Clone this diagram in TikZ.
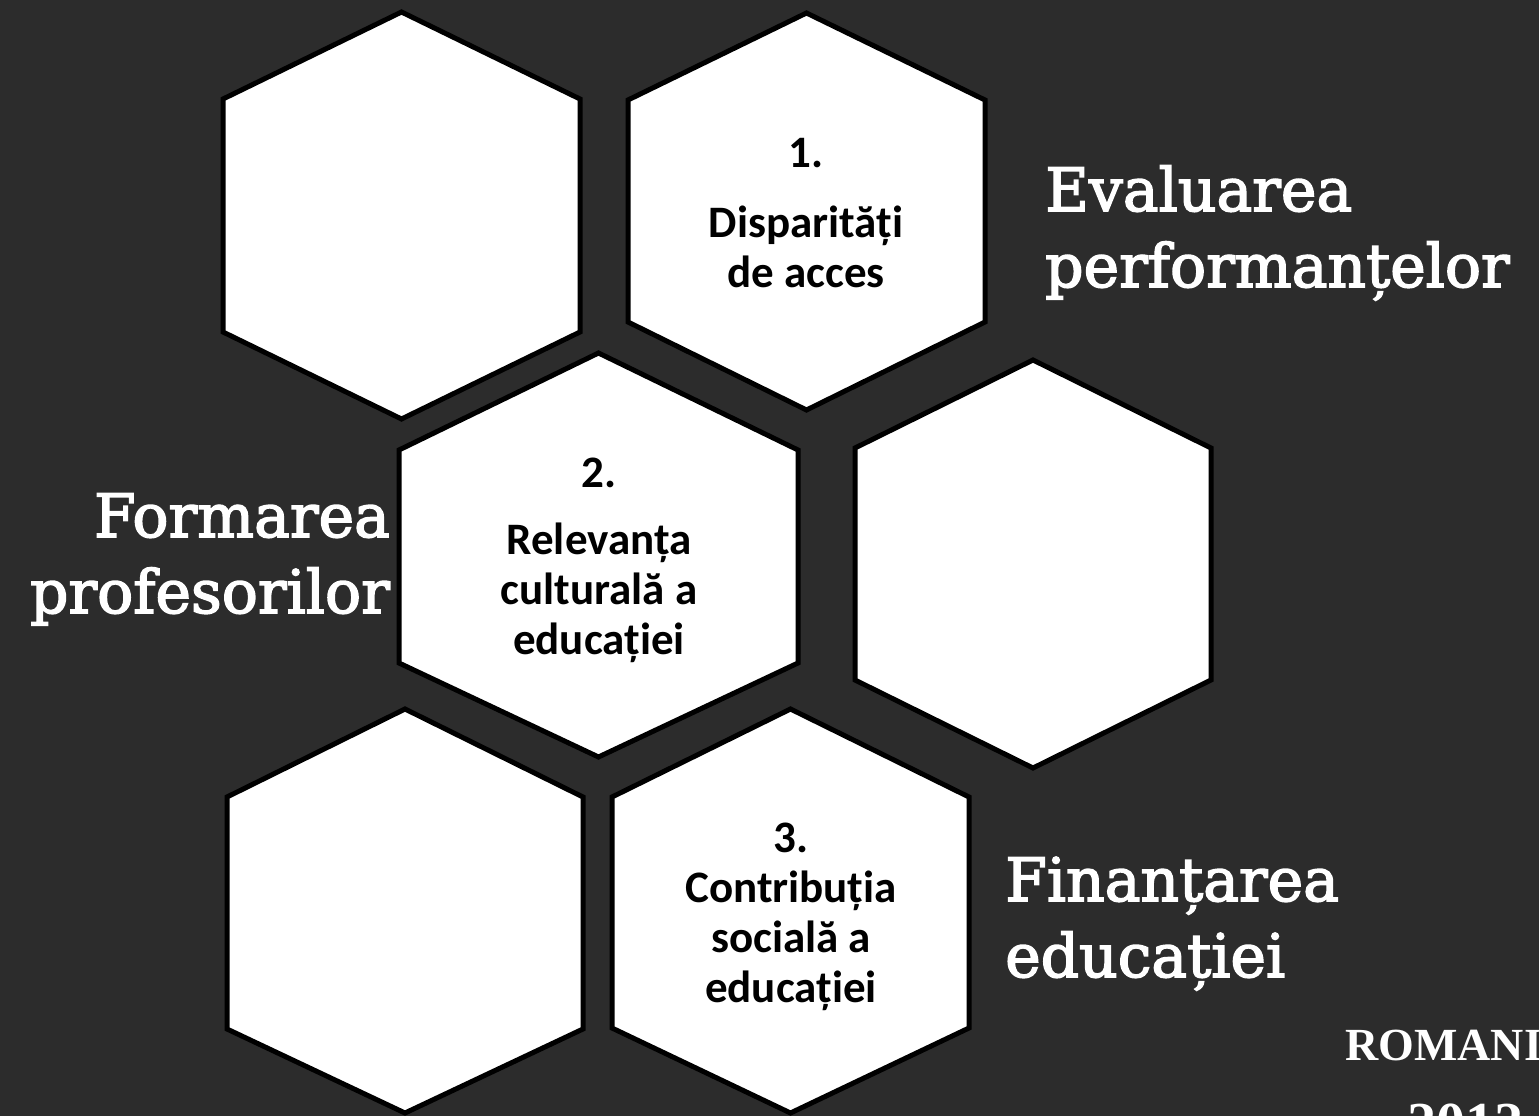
\documentclass[tikz,border=0pt]{standalone}
\usepackage{fontspec}
\usepackage{tikz}
\newfontfamily\chalkfont{DejaVu Serif}[BoldFont={DejaVu Serif}, BoldFeatures={FakeBold=2.5}]
\newfontfamily\cellfont{Carlito}
\newfontfamily\stampfont{Liberation Serif}
\definecolor{board}{RGB}{44,44,44}

\begin{document}
\begin{tikzpicture}[x=1pt,y=-1pt,
  hexa/.style={fill=white, draw=black, line width=5pt, line join=miter},
  celltext/.style={align=center, inner sep=0pt, text=black, font=\cellfont\bfseries\fontsize{45}{50}\selectfont},
  chalk/.style={inner sep=0pt, text=white, font=\chalkfont\bfseries\fontsize{60}{76}\selectfont},
  stamp/.style={anchor=base, inner sep=0pt, text=white}]
\useasboundingbox (0,0) rectangle (1539,1116);
\fill[board] (0,0) rectangle (1539,1116);

\coordinate (ha) at (401.5,215.5);
\coordinate (hb) at (806.5,211.5);
\coordinate (hc) at (598.5,555);
\coordinate (hd) at (1033,564);
\coordinate (he) at (405,911);
\coordinate (hf) at (790.5,911);

 \filldraw[hexa] (ha) ++(0,-203.5) -- ++(178.5,87) -- ++(0,233) -- ++(-178.5,87) -- ++(-178.5,-87) -- ++(0,-233) -- cycle;
 \filldraw[hexa] (hb) ++(0,-198.5) -- ++(178.5,87) -- ++(0,222) -- ++(-178.5,88) -- ++(-178.5,-88) -- ++(0,-222) -- cycle;
 \filldraw[hexa] (hc) ++(0,-202) -- ++(199.5,97) -- ++(0,213) -- ++(-199.5,94) -- ++(-199.5,-94) -- ++(0,-213) -- cycle;
 \filldraw[hexa] (hd) ++(0,-204) -- ++(178,88) -- ++(0,232) -- ++(-178,88) -- ++(-178,-88) -- ++(0,-232) -- cycle;
 \filldraw[hexa] (he) ++(0,-202) -- ++(178,88) -- ++(0,232) -- ++(-178,84) -- ++(-178,-84) -- ++(0,-232) -- cycle;
 \filldraw[hexa] (hf) ++(0,-202) -- ++(178.5,88) -- ++(0,231) -- ++(-178.5,85) -- ++(-178.5,-85) -- ++(0,-231) -- cycle;

 \node[celltext] (acces) at (806,213) {1.\\[20pt]Disparități\\de acces};
 \node[celltext] (cultura) at (599,560) {2.\\[17pt]Relevanța\\culturală a\\educației};
 \node[celltext] (social) at (791,917) {3.\\Contribuția\\socială a\\educației};

 \node[chalk, anchor=base west, align=left] (evaluare) at (1045,287) {Evaluarea\\performanțelor};
 \node[chalk, anchor=base east, align=right] (formare) at (390,613) {Formarea\\profesorilor};
 \node[chalk, anchor=base west, align=left] (finantare) at (1005,977) {Finanțarea\\educației};

 \node[stamp, anchor=base west, font=\stampfont\bfseries\fontsize{46}{50}\selectfont] (tara) at (1345,1060) {ROMANIA};
 \node[stamp, font=\stampfont\bfseries\fontsize{58}{60}\selectfont] (an) at (1465,1142) {2012};
\end{tikzpicture}
\end{document}
